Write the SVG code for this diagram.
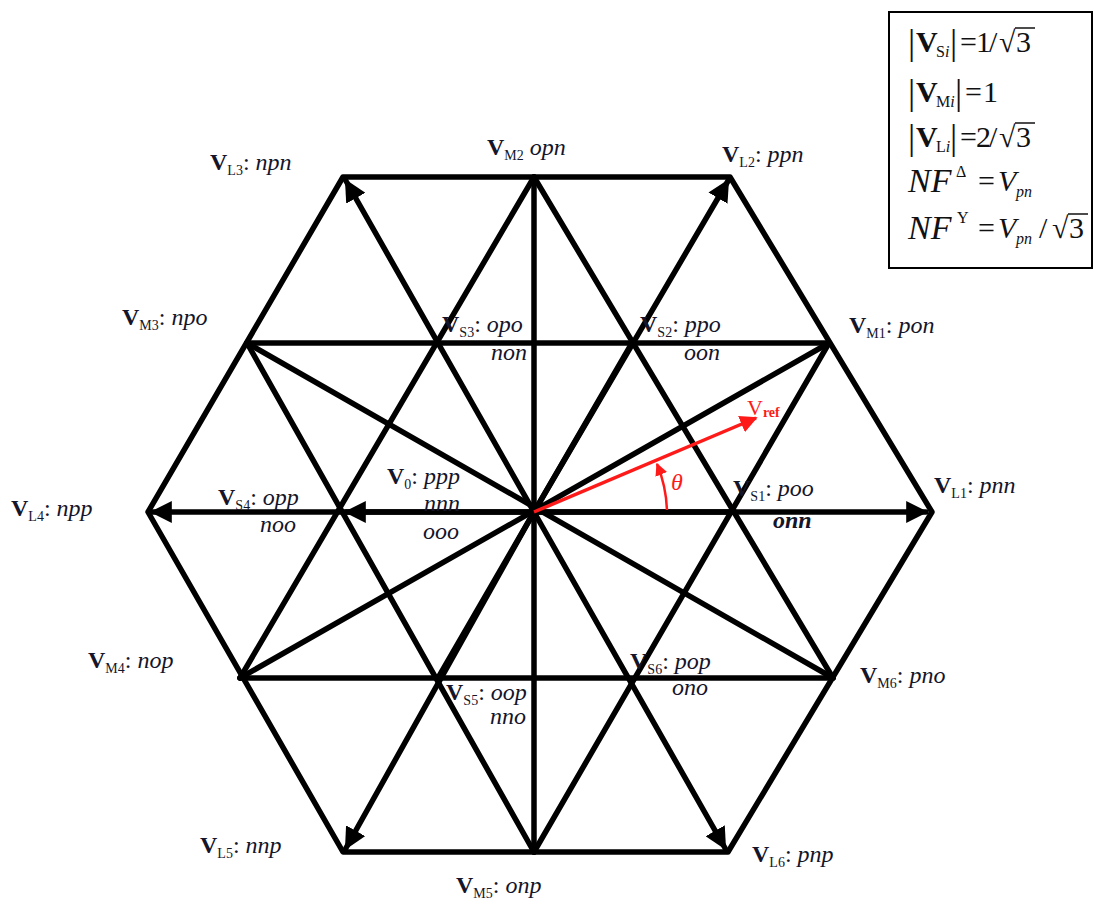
<svg xmlns="http://www.w3.org/2000/svg" width="1097" height="899" viewBox="0 0 1097 899">
<defs>
<style>
.ln{stroke:#000;stroke-width:5.5;fill:none;stroke-linecap:round;stroke-linejoin:round}
.lbl{font-family:"Liberation Serif","Times New Roman",serif;font-size:24px;fill:#15152a}
.v{font-weight:bold}
.sub{font-size:14px}
.it{font-style:italic}
.box{font-family:"Liberation Serif","Times New Roman",serif;font-size:30px;fill:#111}
.bs{font-size:16px}
.bar{font-size:36px}
.nf{font-size:34px}
.red{fill:#ff1a1a;font-family:"Liberation Serif","Times New Roman",serif}
</style>
<marker id="ah" viewBox="0 0 10 10" refX="9" refY="5" markerWidth="4" markerHeight="4" orient="auto" markerUnits="strokeWidth">
<path d="M0,0 L10,5 L0,10 z" fill="#000"/>
</marker>
<marker id="ahr" viewBox="0 0 10 10" refX="9" refY="5" markerWidth="5" markerHeight="5" orient="auto" markerUnits="strokeWidth">
<path d="M0,0 L10,5 L0,10 z" fill="#ff1a1a"/>
</marker>
</defs>
<rect width="1097" height="899" fill="#fff"/>

<g id="connectors">
<polygon class="ln" points="932,512 730,177 343,177 148,512 343,852 728,852" stroke-width="6"/>
<line class="ln" x1="247" y1="343" x2="829" y2="343"/>
<line class="ln" x1="240" y1="678" x2="833" y2="678"/>
<line class="ln" x1="240" y1="678" x2="534" y2="177"/>
<line class="ln" x1="534" y1="852" x2="829" y2="343"/>
<line class="ln" x1="833" y1="678" x2="534" y2="177"/>
<line class="ln" x1="534" y1="852" x2="247" y2="343"/>
<line class="ln" x1="534" y1="177" x2="534" y2="852"/>
<line class="ln" x1="247" y1="343" x2="833" y2="678"/>
<line class="ln" x1="829" y1="343" x2="240" y2="678"/>
<line class="ln" x1="534" y1="512" x2="926" y2="512" marker-end="url(#ah)"/>
<line class="ln" x1="534" y1="512" x2="152" y2="512" marker-end="url(#ah)"/>
<line class="ln" x1="534" y1="512" x2="728" y2="181" marker-end="url(#ah)"/>
<line class="ln" x1="534" y1="512" x2="346" y2="181" marker-end="url(#ah)"/>
<line class="ln" x1="534" y1="512" x2="346" y2="848" marker-end="url(#ah)"/>
<line class="ln" x1="534" y1="512" x2="725" y2="848" marker-end="url(#ah)"/>
<line class="ln" x1="534" y1="512" x2="346" y2="512" marker-end="url(#ah)"/>
<line class="ln" x1="534" y1="512" x2="632" y2="343" stroke-width="7"/>
<line class="ln" x1="534" y1="512" x2="438" y2="678" stroke-width="7"/>
<line class="ln" x1="534" y1="512" x2="735" y2="512" stroke-width="7"/>
<line x1="534" y1="512" x2="756" y2="418" stroke="#ff1a1a" stroke-width="3.5" marker-end="url(#ahr)"/>
<path d="M667,510 A133,133 0 0 0 657,464" fill="none" stroke="#ff1a1a" stroke-width="2.5" marker-end="url(#ahr)"/>
</g>

<g id="n-L1"><text class="lbl" x="934" y="493"><tspan class="v">V</tspan><tspan class="sub" dy="5">L1</tspan><tspan dy="-5">: </tspan><tspan class="it">pnn</tspan></text></g>
<g id="n-L2"><text class="lbl" x="722" y="162"><tspan class="v">V</tspan><tspan class="sub" dy="5">L2</tspan><tspan dy="-5">: </tspan><tspan class="it">ppn</tspan></text></g>
<g id="n-L3"><text class="lbl" x="210" y="170"><tspan class="v">V</tspan><tspan class="sub" dy="5">L3</tspan><tspan dy="-5">: </tspan><tspan class="it">npn</tspan></text></g>
<g id="n-L4"><text class="lbl" x="11" y="516"><tspan class="v">V</tspan><tspan class="sub" dy="5">L4</tspan><tspan dy="-5">: </tspan><tspan class="it">npp</tspan></text></g>
<g id="n-L5"><text class="lbl" x="200" y="853"><tspan class="v">V</tspan><tspan class="sub" dy="5">L5</tspan><tspan dy="-5">: </tspan><tspan class="it">nnp</tspan></text></g>
<g id="n-L6"><text class="lbl" x="752" y="862"><tspan class="v">V</tspan><tspan class="sub" dy="5">L6</tspan><tspan dy="-5">: </tspan><tspan class="it">pnp</tspan></text></g>

<g id="n-M1"><text class="lbl" x="849" y="333"><tspan class="v">V</tspan><tspan class="sub" dy="5">M1</tspan><tspan dy="-5">: </tspan><tspan class="it">pon</tspan></text></g>
<g id="n-M2"><text class="lbl" x="487" y="155"><tspan class="v">V</tspan><tspan class="sub" dy="5">M2</tspan><tspan dy="-5">  </tspan><tspan class="it">opn</tspan></text></g>
<g id="n-M3"><text class="lbl" x="122" y="325"><tspan class="v">V</tspan><tspan class="sub" dy="5">M3</tspan><tspan dy="-5">: </tspan><tspan class="it">npo</tspan></text></g>
<g id="n-M4"><text class="lbl" x="88" y="668"><tspan class="v">V</tspan><tspan class="sub" dy="5">M4</tspan><tspan dy="-5">: </tspan><tspan class="it">nop</tspan></text></g>
<g id="n-M5"><text class="lbl" x="456" y="893"><tspan class="v">V</tspan><tspan class="sub" dy="5">M5</tspan><tspan dy="-5">: </tspan><tspan class="it">onp</tspan></text></g>
<g id="n-M6"><text class="lbl" x="860" y="683"><tspan class="v">V</tspan><tspan class="sub" dy="5">M6</tspan><tspan dy="-5">: </tspan><tspan class="it">pno</tspan></text></g>

<g id="n-S1"><text class="lbl" x="733" y="496"><tspan class="v">V</tspan><tspan class="sub" dy="5">S1</tspan><tspan dy="-5">: </tspan><tspan class="it">poo</tspan></text><text class="lbl it" x="773" y="528" font-weight="bold">onn</text></g>
<g id="n-S2"><text class="lbl" x="640" y="332"><tspan class="v">V</tspan><tspan class="sub" dy="5">S2</tspan><tspan dy="-5">: </tspan><tspan class="it">ppo</tspan></text><text class="lbl it" x="684" y="360">oon</text></g>
<g id="n-S3"><text class="lbl" x="442" y="332"><tspan class="v">V</tspan><tspan class="sub" dy="5">S3</tspan><tspan dy="-5">: </tspan><tspan class="it">opo</tspan></text><text class="lbl it" x="491" y="360">non</text></g>
<g id="n-S4"><text class="lbl" x="218" y="505"><tspan class="v">V</tspan><tspan class="sub" dy="5">S4</tspan><tspan dy="-5">: </tspan><tspan class="it">opp</tspan></text><text class="lbl it" x="260" y="532">noo</text></g>
<g id="n-S5"><text class="lbl" x="446" y="700"><tspan class="v">V</tspan><tspan class="sub" dy="5">S5</tspan><tspan dy="-5">: </tspan><tspan class="it">oop</tspan></text><text class="lbl it" x="490" y="724">nno</text></g>
<g id="n-S6"><text class="lbl" x="630" y="669"><tspan class="v">V</tspan><tspan class="sub" dy="5">S6</tspan><tspan dy="-5">: </tspan><tspan class="it">pop</tspan></text><text class="lbl it" x="672" y="695">ono</text></g>
<g id="n-V0"><text class="lbl" x="387" y="484"><tspan class="v">V</tspan><tspan class="sub" dy="5">0</tspan><tspan dy="-5">: </tspan><tspan class="it">ppp</tspan></text><text class="lbl it" x="424" y="511">nnn</text><text class="lbl it" x="423" y="539">ooo</text></g>

<g id="n-Vref"><text class="red" x="747" y="415" font-size="22">V<tspan font-size="14" font-weight="bold" dy="2">ref</tspan></text><text class="red" x="671" y="490" font-size="24" font-style="italic">θ</text></g>

<g id="legend">
<rect x="889" y="12" width="203" height="256" fill="#fff" stroke="#000" stroke-width="2"/>
<!-- line 1 -->
<text class="box bar" x="908" y="54">|</text>
<text class="box v" x="916" y="52">V</text>
<text class="box bs" x="936" y="57">S<tspan class="it">i</tspan></text>
<text class="box bar" x="950" y="54">|</text>
<text class="box" x="960" y="52">=</text>
<text class="box" x="976" y="52">1</text>
<text class="box" x="989" y="52">/</text>
<text class="box" x="999" y="52">√</text>
<text class="box" x="1016" y="52">3</text>
<line x1="1015" y1="28" x2="1035" y2="28" stroke="#111" stroke-width="1.5"/>
<!-- line 2 -->
<text class="box bar" x="908" y="104">|</text>
<text class="box v" x="916" y="102">V</text>
<text class="box bs" x="936" y="107">M<tspan class="it">i</tspan></text>
<text class="box bar" x="955" y="104">|</text>
<text class="box" x="965" y="102">=</text>
<text class="box" x="983" y="102">1</text>
<!-- line 3 -->
<text class="box bar" x="908" y="149">|</text>
<text class="box v" x="916" y="147">V</text>
<text class="box bs" x="936" y="152">L<tspan class="it">i</tspan></text>
<text class="box bar" x="950" y="149">|</text>
<text class="box" x="960" y="147">=</text>
<text class="box" x="976" y="147">2</text>
<text class="box" x="989" y="147">/</text>
<text class="box" x="999" y="147">√</text>
<text class="box" x="1016" y="147">3</text>
<line x1="1015" y1="123" x2="1035" y2="123" stroke="#111" stroke-width="1.5"/>
<!-- line 4 -->
<text class="box it nf" x="908" y="192">NF</text>
<text class="box bs" x="956" y="177">Δ</text>
<text class="box" x="978" y="191">=</text>
<text class="box it" x="998" y="191">V</text>
<text class="box bs it" x="1016" y="197">pn</text>
<!-- line 5 -->
<text class="box it nf" x="908" y="239">NF</text>
<text class="box bs" x="957" y="223">Y</text>
<text class="box" x="978" y="238">=</text>
<text class="box it" x="998" y="238">V</text>
<text class="box bs it" x="1016" y="244">pn</text>
<text class="box" x="1039" y="238">/</text>
<text class="box" x="1052" y="238">√</text>
<text class="box" x="1069" y="238">3</text>
<line x1="1068" y1="214" x2="1088" y2="214" stroke="#111" stroke-width="1.5"/>
</g>
</svg>
